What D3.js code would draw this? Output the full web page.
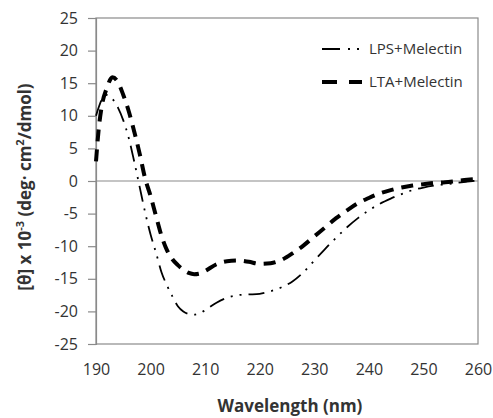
<!DOCTYPE html>
<html>
<head>
<meta charset="utf-8">
<script src="https://cdn.jsdelivr.net/npm/d3@7/dist/d3.min.js"></script>
<style>
  html, body { margin: 0; padding: 0; background: #fff; }
  svg { display: block; font-family: "Open Sans", "DejaVu Sans", sans-serif; }
</style>
</head>
<body>
<svg id="chart" width="493" height="418"></svg>
<script>
// ---- data ----
const wavelengths = [190, 190.5, 191, 192, 193, 194, 195, 196, 197, 198, 199, 200, 201, 202, 203, 204, 205, 206, 207, 208, 209, 210,
  212, 214, 216, 218, 220, 222, 224, 226, 228, 230, 232, 234, 236, 238, 240, 242, 244, 246, 248, 250, 252, 254, 256, 258, 260];
const lpsMelectin = [10.0, 11.3, 12.4, 13.2, 12.6, 11.3, 9.3, 6.6, 3.0, -0.9, -4.8, -8.2, -11.0, -14.0, -16.0, -17.7, -19.2, -20.0, -20.4, -20.5, -20.3, -19.8,
  -18.7, -17.9, -17.5, -17.4, -17.3, -16.9, -16.3, -15.4, -14.0, -12.2, -10.4, -8.7, -7.1, -5.7, -4.5, -3.5, -2.7, -2.0, -1.4, -1.0, -0.7, -0.5, -0.3, -0.1, 0.1];
const ltaMelectin = [3.0, 8.0, 11.2, 14.3, 15.9, 15.2, 13.2, 10.7, 7.6, 4.2, 0.4, -2.3, -5.4, -8.4, -10.6, -12.0, -12.9, -13.6, -14.1, -14.3, -14.2, -13.8,
  -12.8, -12.3, -12.2, -12.4, -12.7, -12.6, -12.1, -11.1, -9.9, -8.5, -7.1, -5.7, -4.5, -3.4, -2.6, -1.9, -1.4, -1.0, -0.7, -0.5, -0.3, -0.2, 0.0, 0.2, 0.3];
const seriesNames = ["LPS+Melectin", "LTA+Melectin"];
const xTicks = [190, 200, 210, 220, 230, 240, 250, 260];
const yTicks = [25, 20, 15, 10, 5, 0, -5, -10, -15, -20, -25];

// ---- layout ----
const pL = 96, pR = 478, pT = 18, pB = 344;
const svg = d3.select("#chart");
const x = d3.scaleLinear().domain([190, 260]).range([pL, pR]);
const y = d3.scaleLinear().domain([-25, 25]).range([pB, pT]);
const axisColor = "#8a8a8a";
const textColor = "#333";

// frame
svg.append("rect").attr("x", pL).attr("y", pT).attr("width", pR - pL).attr("height", pB - pT)
  .attr("fill", "none").attr("stroke", axisColor).attr("stroke-width", 1.2);

// y axis
const yAxis = svg.append("g").attr("transform", `translate(${pL},0)`)
  .call(d3.axisLeft(y).tickValues(yTicks).tickSize(8).tickPadding(10).tickFormat(d3.format("d")));
yAxis.select(".domain").attr("stroke", axisColor).attr("stroke-width", 1.2);
yAxis.selectAll(".tick line").attr("stroke", axisColor).attr("stroke-width", 1.2);
yAxis.selectAll(".tick text").attr("fill", textColor).style("font-size", "16px")
  .style("font-family", "'Open Sans', sans-serif").text(d => d < 0 ? "-" + Math.abs(d) : d);

// x axis labels (no tick marks)
const xAxis = svg.append("g").attr("transform", `translate(0,${pB})`)
  .call(d3.axisBottom(x).tickValues(xTicks).tickSize(0).tickPadding(20).tickFormat(d3.format("d")));
xAxis.select(".domain").remove();
xAxis.selectAll(".tick text").attr("fill", textColor).style("font-size", "16px")
  .style("font-family", "'Open Sans', sans-serif");

// zero line
svg.append("line").attr("x1", pL).attr("x2", pR).attr("y1", y(0)).attr("y2", y(0))
  .attr("stroke", axisColor).attr("stroke-width", 1.2);

// axis titles
svg.append("text").attr("x", 290).attr("y", 412).attr("text-anchor", "middle")
  .attr("fill", textColor).style("font-size", "17px").style("font-weight", "bold").text("Wavelength (nm)");

const yt = svg.append("text").attr("transform", "translate(31,187) rotate(-90)").attr("text-anchor", "middle")
  .attr("fill", textColor).style("font-size", "17px").style("font-weight", "bold");
yt.append("tspan").text("[θ] x 10");
yt.append("tspan").attr("dy", -7).style("font-size", "11px").text("-3");
yt.append("tspan").attr("dy", 7).text(" (deg· cm");
yt.append("tspan").attr("dy", -7).style("font-size", "11px").text("2");
yt.append("tspan").attr("dy", 7).text("/dmol)");

// lines
const styles = [
  { values: lpsMelectin, width: 1.8, dash: "16,7,2,7,2,7", cap: "butt" },
  { values: ltaMelectin, width: 4, dash: "12,8", cap: "butt" }
];
const line = d3.line().x(d => x(d[0])).y(d => y(d[1])).curve(d3.curveMonotoneX);
styles.forEach(s => {
  svg.append("path").datum(wavelengths.map((w, i) => [w, s.values[i]]))
    .attr("d", line).attr("fill", "none").attr("stroke", "#000")
    .attr("stroke-width", s.width).attr("stroke-dasharray", s.dash).attr("stroke-linecap", s.cap);
});

// legend
const legY = [49, 82];
seriesNames.forEach((name, i) => {
  const g = svg.append("g");
  const s = styles[i];
  g.append("line").attr("x1", 322).attr("x2", 362).attr("y1", legY[i]).attr("y2", legY[i])
    .attr("stroke", "#000").attr("stroke-width", s.width)
    .attr("stroke-dasharray", i === 0 ? "18,8,2,7,2,20" : "15,12");
  g.append("text").attr("x", 369).attr("y", legY[i]).attr("dy", "0.35em")
    .attr("fill", textColor).style("font-size", "15px").text(name);
});
</script>
</body>
</html>
